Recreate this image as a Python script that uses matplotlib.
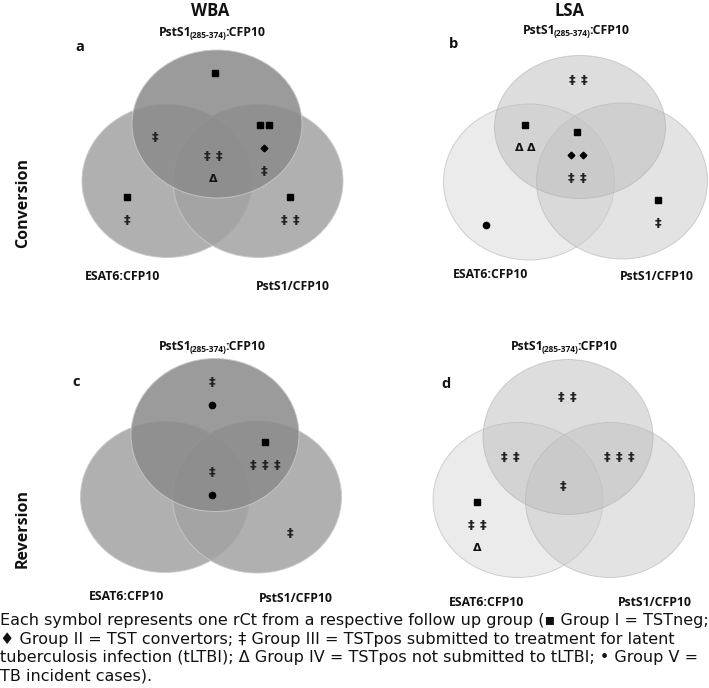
import matplotlib
matplotlib.use("Agg")
import matplotlib.pyplot as plt
from matplotlib.patches import Ellipse

# symbols: ■ group I, ♦ group II, ‡ group III, Δ group IV, ● group V
# one string per row of symbols inside each Venn region
# regions: P = PstS1(285-374) only, PE / PS = two-way overlaps, PES = all three, E / S = single
wba_conversion = {"P": ["■"], "PE": ["‡"], "PES": ["‡‡", "Δ"],
                  "PS": ["■■", "♦", "‡"], "E": ["■", "‡"], "S": ["■", "‡‡"]}
lsa_conversion = {"P": ["‡‡"], "PE": ["■", "ΔΔ"], "PES": ["■", "♦♦", "‡‡"],
                  "E": ["●"], "S": ["■", "‡"]}
wba_reversion = {"P": ["‡", "●"], "PS": ["■", "‡‡‡"], "PES": ["‡", "●"], "S": ["‡"]}
lsa_reversion = {"P": ["‡‡"], "PE": ["‡‡"], "PS": ["‡‡‡"], "PES": ["‡"],
                 "E": ["■", "‡‡", "Δ"]}

antigen_top = ["PstS1", "(285-374)", ":CFP10"]
antigens = ["ESAT6:CFP10", "PstS1/CFP10"]
assays = ["WBA", "LSA"]
rows_lbl = ["Conversion", "Reversion"]
letters = ["a", "b", "c", "d"]
caption = ("Each symbol represents one rCt from a respective follow up group (\u25aa Group I = TSTneg;\n"
           "\u2666 Group II = TST convertors; \u2021 Group III = TSTpos submitted to treatment for latent\n"
           "tuberculosis infection (tLTBI); \u0394 Group IV = TSTpos not submitted to tLTBI; \u2022 Group V =\n"
           "TB incident cases).")

# layout in pixel coordinates of the 709x688 picture
panels = [
    dict(data=wba_conversion, dark=True,
         circles=[(167, 181, 170, 153), (258, 181, 170, 153), (217, 124, 170, 148)],
         title=(212, 33), letter=(80, 47), lbl_e=(122, 277), lbl_s=(293, 286),
         anchors={"P": (215, 73), "PE": (155, 137), "PES": (213, 156),
                  "PS": (264, 125), "E": (127, 197), "S": (290, 197)}),
    dict(data=lsa_conversion, dark=False,
         circles=[(529, 182, 171, 156), (622, 181, 171, 156), (580, 127, 171, 143)],
         title=(576, 30), letter=(454, 44), lbl_e=(490, 275), lbl_s=(657, 276),
         anchors={"P": (578, 80), "PE": (525, 125), "PES": (577, 132),
                  "E": (486, 225), "S": (658, 200)}),
    dict(data=wba_reversion, dark=True,
         circles=[(165, 497, 169, 151), (257, 497, 169, 152), (215, 435, 168, 153)],
         title=(212, 347), letter=(76, 382), lbl_e=(127, 597), lbl_s=(296, 598),
         anchors={"P": (212, 382), "PS": (265, 442), "PES": (212, 472), "S": (290, 533)}),
    dict(data=lsa_reversion, dark=False,
         circles=[(518, 500, 170, 155), (610, 500, 169, 155), (568, 437, 170, 155)],
         title=(564, 347), letter=(446, 384), lbl_e=(487, 602), lbl_s=(655, 603),
         anchors={"P": (567, 397), "PE": (510, 457), "PS": (619, 457),
                  "PES": (563, 486), "E": (477, 502)}),
]

fig = plt.figure(figsize=(7.09, 6.88), dpi=100)
ax = fig.add_axes([0, 0, 1, 1])
ax.set_xlim(0, 709)
ax.set_ylim(688, 0)
ax.axis("off")
renderer = fig.canvas.get_renderer()

lab_font = dict(family="Open Sans", fontweight="bold", color="#111111")


def draw_symbol(ch, x, y):
    if ch == "■":
        ax.plot(x, y, marker="s", ms=5, color="black", zorder=5)
    elif ch == "♦":
        ax.plot(x, y, marker="D", ms=3.4, color="black", zorder=5)
    elif ch == "●":
        ax.plot(x, y, marker="o", ms=4.5, color="black", zorder=5)
    elif ch == "Δ":
        ax.text(x, y, ch, fontsize=8, fontweight="bold", ha="center", va="center",
                color="#111111", zorder=5)
    else:
        ax.text(x, y + 0.5, ch, fontsize=9.5, fontweight="bold", ha="center", va="center",
                color="#222222", zorder=5)


def top_label(x, y):
    # PstS1 with a subscript range, then :CFP10, centred on x
    sizes = [8.8, 6.0, 8.8]
    shifts = [0, 3, 0]
    trims = [2.5, 1.2, 0]
    ts = [ax.text(0, y + dy, s, fontsize=fs, ha="left", va="center", **lab_font)
          for s, fs, dy in zip(antigen_top, sizes, shifts)]
    ws = [t.get_window_extent(renderer).width - tr for t, tr in zip(ts, trims)]
    left = x - sum(ws) / 2
    for t, w in zip(ts, ws):
        t.set_x(left)
        left += w


for i, p in enumerate(panels):
    if p["dark"]:
        cols = ["#a3a3a3", "#a3a3a3", "#8b8b8b"]
        alpha = 0.86
        edge = "#c9c9c9"
    else:
        cols = ["#d9d9d9", "#c9c9c9", "#bdbdbd"]
        alpha = 0.5
        edge = "#a9a9a9"
    for (cx, cy, w, h), c in zip(p["circles"], cols):
        ax.add_patch(Ellipse((cx, cy), w, h, facecolor=c, alpha=alpha,
                             edgecolor=edge, lw=0.7, zorder=2))

    top_label(*p["title"])
    ax.text(*p["lbl_e"], antigens[0], fontsize=8.8, ha="center", va="center", **lab_font)
    ax.text(*p["lbl_s"], antigens[1], fontsize=8.8, ha="center", va="center", **lab_font)
    ax.text(*p["letter"], letters[i], fontsize=10.5, ha="center", va="center", **lab_font)

    for region, rows in p["data"].items():
        x0, y0 = p["anchors"][region]
        for r, row in enumerate(rows):
            step = 9 if row[0] == "■" else 12
            n = len(row)
            for k, ch in enumerate(row):
                draw_symbol(ch, x0 + (k - (n - 1) / 2) * step, y0 + r * 23)

ax.text(210, 11, assays[0], fontsize=12, ha="center", va="center", **lab_font)
ax.text(569, 11, assays[1], fontsize=12, ha="center", va="center", **lab_font)
ax.text(23, 203, rows_lbl[0], fontsize=11.5, rotation=90, ha="center", va="center", **lab_font)
ax.text(23, 528, rows_lbl[1], fontsize=11.5, rotation=90, ha="center", va="center", **lab_font)

ax.text(0, 613, caption, fontsize=11.5, family="DejaVu Sans", ha="left", va="top",
        linespacing=1.3, color="#111111")

fig.savefig("out.png", dpi=100)
